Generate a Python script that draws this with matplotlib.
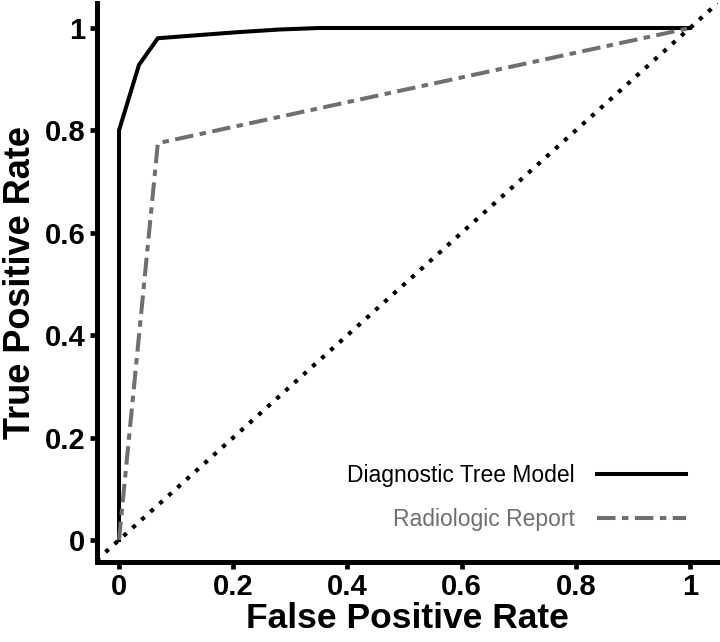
import matplotlib
matplotlib.use("Agg")
import matplotlib.pyplot as plt

plt.rcParams['font.family'] = ['Liberation Sans', 'DejaVu Sans']

# Data
fpr_tree = [0.0, 0.0, 0.035, 0.068, 0.15, 0.21, 0.28, 0.35, 1.0]
tpr_tree = [0.0, 0.80, 0.928, 0.98, 0.987, 0.992, 0.997, 1.0, 1.0]
fpr_rad = [0.0, 0.068, 1.0]
tpr_rad = [0.0, 0.775, 1.0]
ticks = [0, 0.2, 0.4, 0.6, 0.8, 1]
tick_labels = ["0", "0.2", "0.4", "0.6", "0.8", "1"]
series_names = ["Diagnostic Tree Model", "Radiologic Report"]

W, H = 720, 642
fig = plt.figure(figsize=(W / 100, H / 100), dpi=100)
ax = fig.add_axes([96.5 / W, (H - 561.5) / H, (718 - 96.5) / W, (561.5 - 3) / H])

gray = "#6f6f6f"
ax.axline((0, 0), (1, 1), color="black", lw=3.0, linestyle=(0, (1, 1.9)))
l1, = ax.plot(fpr_tree, tpr_tree, color="black", lw=2.9, solid_joinstyle="miter",
              label=series_names[0])
l2, = ax.plot(fpr_rad, tpr_rad, color=gray, lw=2.9, linestyle=(0, (4.6, 1.6, 1.6, 1.6)),
              label=series_names[1])

ax.set_xlim((96.5 - 119) / 571, (718 - 119) / 571)
ax.set_ylim((540 - 561.5) / 512, (540 - 3) / 512)

for s in ["top", "right"]:
    ax.spines[s].set_visible(False)
for s in ["left", "bottom"]:
    ax.spines[s].set_linewidth(3.6)
    ax.spines[s].set_capstyle("projecting")

ax.set_xticks(ticks)
ax.set_xticklabels(tick_labels)
ax.set_yticks(ticks)
ax.set_yticklabels(tick_labels)
ax.tick_params(axis="both", length=5, width=3.4, pad=3, labelsize=21, color="black")
for lab in ax.get_xticklabels() + ax.get_yticklabels():
    lab.set_fontweight("bold")

ax.set_xlabel("False Positive Rate", fontsize=25.5, fontweight="bold", labelpad=1)
ax.set_ylabel("True Positive Rate", fontsize=26, fontweight="bold", labelpad=5)

leg = ax.legend(handles=[l1, l2], loc="lower right", frameon=False, markerfirst=False,
                fontsize=16.5, handlelength=3.9, handletextpad=0.95, labelspacing=0.92,
                borderpad=0, borderaxespad=0,
                bbox_to_anchor=(686 / W, (H - 531) / H), bbox_transform=fig.transFigure)
leg.get_texts()[0].set_color("black")
leg.get_texts()[1].set_color(gray)

fig.savefig("out.png", dpi=100)
